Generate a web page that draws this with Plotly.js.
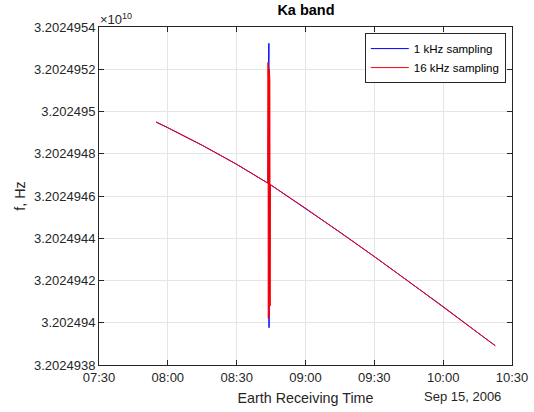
<!DOCTYPE html>
<html>
<head>
<meta charset="utf-8">
<script src="https://cdn.plot.ly/plotly-3.0.1.min.js"></script>
<style>html,body{margin:0;padding:0;background:#fff;}#chart{width:534px;height:412px;}</style>
</head>
<body>
<div id="chart"></div>
<script>
// 1 kHz sampling series (Hz)
var t1k = ["2006-09-15 07:54:54","2006-09-15 08:00:00","2006-09-15 08:15:00","2006-09-15 08:30:00","2006-09-15 08:43:35",
  "2006-09-15 08:44:03","2006-09-15 08:44:06","2006-09-15 08:44:09","2006-09-15 08:44:12",
  "2006-09-15 08:44:40","2006-09-15 09:00:00","2006-09-15 09:15:00","2006-09-15 09:30:00","2006-09-15 09:45:00","2006-09-15 10:00:00","2006-09-15 10:15:00","2006-09-15 10:22:42"];
var f1k = [32024949500,32024949232,32024948400,32024947500,32024946610,
  32024953228,32024939768,32024951500,32024941500,
  32024946540,32024945422,32024944290,32024943132,32024941950,32024940763,32024939535,32024938914];
// 16 kHz sampling series (Hz)
var t16k = ["2006-09-15 07:54:54","2006-09-15 08:00:00","2006-09-15 08:15:00","2006-09-15 08:30:00","2006-09-15 08:43:35",
  "2006-09-15 08:43:40","2006-09-15 08:43:48","2006-09-15 08:43:56","2006-09-15 08:44:04","2006-09-15 08:44:12","2006-09-15 08:44:20","2006-09-15 08:44:28","2006-09-15 08:44:36",
  "2006-09-15 08:44:40","2006-09-15 09:00:00","2006-09-15 09:15:00","2006-09-15 09:30:00","2006-09-15 09:45:00","2006-09-15 10:00:00","2006-09-15 10:15:00","2006-09-15 10:22:42"];
var f16k = [32024949500,32024949232,32024948400,32024947500,32024946610,
  32024952327,32024940194,32024951800,32024940300,32024952000,32024940500,32024951500,32024940800,
  32024946540,32024945422,32024944290,32024943132,32024941950,32024940763,32024939535,32024938914];

var yTickVals = [32024938000,32024940000,32024942000,32024944000,32024946000,32024948000,32024950000,32024952000,32024954000];
var yTickText = ["3.2024938","3.202494","3.2024942","3.2024944","3.2024946","3.2024948","3.202495","3.2024952","3.2024954"];
var xTickVals = ["2006-09-15 07:30:00","2006-09-15 08:00:00","2006-09-15 08:30:00","2006-09-15 09:00:00","2006-09-15 09:30:00","2006-09-15 10:00:00","2006-09-15 10:30:00"];
var xTickText = ["07:30","08:00","08:30","09:00","09:30","10:00","10:30"];

var axisColor = "#262626";
var data = [
  {x: t1k, y: f1k, type: "scatter", mode: "lines", name: "1 kHz sampling", line: {color: "#0000ff", width: 1}},
  {x: t16k, y: f16k, type: "scatter", mode: "lines", name: "16 kHz sampling", line: {color: "#ff0000", width: 1}}
];
var layout = {
  width: 534, height: 412,
  margin: {l: 99, r: 22, t: 27, b: 47},
  paper_bgcolor: "#fff", plot_bgcolor: "#fff",
  font: {family: "Liberation Sans, Arial, sans-serif", size: 13, color: axisColor},
  title: {text: "<b>Ka band</b>", font: {size: 14.5, color: "#000"}, x: 0.573, xanchor: "center", y: 0.976, yanchor: "middle"},
  showlegend: true,
  legend: {x: 0.985, xanchor: "right", y: 0.982, yanchor: "top", bgcolor: "#fff", bordercolor: axisColor, borderwidth: 1,
    font: {size: 11.5, color: "#000"}, tracegroupgap: 0, itemwidth: 38},
  xaxis: {
    type: "date",
    range: ["2006-09-15 07:30:00", "2006-09-15 10:30:00"],
    tickvals: xTickVals, ticktext: xTickText,
    ticks: "inside", ticklen: 5, tickcolor: axisColor,
    showline: true, linecolor: axisColor, linewidth: 1, mirror: "ticks",
    showgrid: true, gridcolor: "#e5e5e5", zeroline: false,
    tickfont: {size: 13, color: axisColor},
    title: {text: "Earth Receiving Time", font: {size: 14.3, color: axisColor}, standoff: 9}
  },
  yaxis: {
    range: [32024938000, 32024954000],
    tickvals: yTickVals, ticktext: yTickText,
    ticks: "inside", ticklen: 5, tickcolor: axisColor,
    showline: true, linecolor: axisColor, linewidth: 1, mirror: "ticks",
    showgrid: true, gridcolor: "#e5e5e5", zeroline: false,
    tickfont: {size: 13, color: axisColor},
    title: {text: "f, Hz", font: {size: 14.3, color: axisColor}, standoff: 4}
  },
  annotations: [
    {text: "×10<sup>10</sup>", xref: "paper", yref: "paper", x: 0, y: 1, xanchor: "left", yanchor: "bottom", yshift: -2, xshift: -1,
     showarrow: false, font: {size: 13, color: axisColor}},
    {text: "Sep 15, 2006", xref: "paper", yref: "paper", x: 0.879, y: 0, xanchor: "center", yanchor: "top", yshift: -22,
     showarrow: false, font: {size: 13, color: axisColor}}
  ]
};
Plotly.newPlot("chart", data, layout, {displayModeBar: false, staticPlot: true});
</script>
</body>
</html>
